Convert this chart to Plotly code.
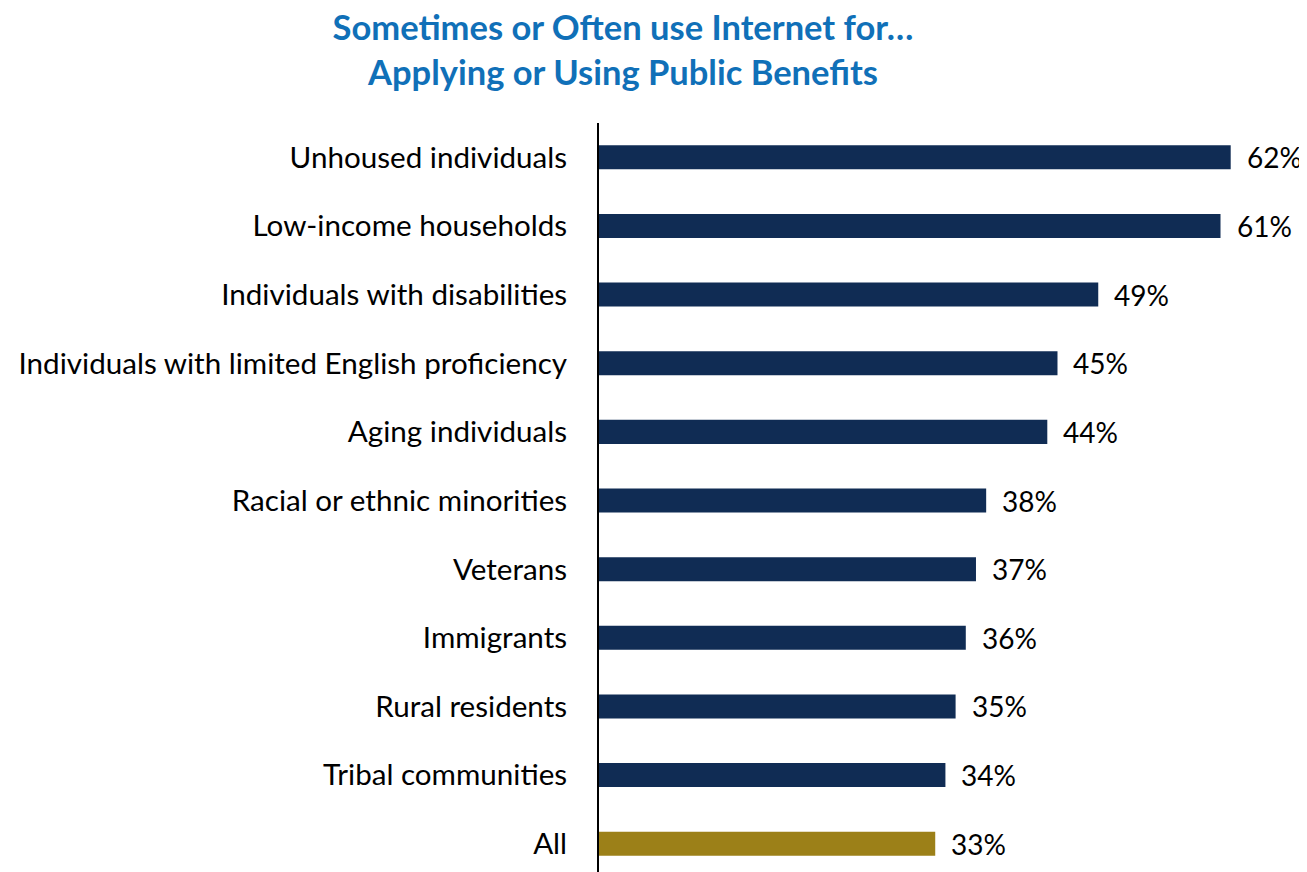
import plotly.graph_objects as go

categories = [
    "Unhoused individuals",
    "Low-income households",
    "Individuals with disabilities",
    "Individuals with limited English proficiency",
    "Aging individuals",
    "Racial or ethnic minorities",
    "Veterans",
    "Immigrants",
    "Rural residents",
    "Tribal communities",
    "All",
]
values = [62, 61, 49, 45, 44, 38, 37, 36, 35, 34, 33]
labels = [f"{v}%" for v in values]

NAVY = "#102C54"
GOLD = "#9C8018"
colors = [GOLD if c == "All" else NAVY for c in categories]

FONT = "Lato"

fig = go.Figure(
    go.Bar(
        x=values,
        y=categories,
        orientation="h",
        marker=dict(color=colors, line=dict(width=0)),
        width=0.35,
        hoverinfo="skip",
    )
)

for c, v, t in zip(categories, values, labels):
    fig.add_annotation(
        x=v, y=c, text=t, showarrow=False, xanchor="left", xshift=14,
        font=dict(family=FONT, size=28, color="#000000"),
    )

fig.update_layout(
    width=1307,
    height=872,
    margin=dict(l=591, r=14, t=115, b=2),
    paper_bgcolor="white",
    plot_bgcolor="white",
    showlegend=False,
    title=dict(
        text="Sometimes or Often use Internet for…<br>Applying or Using Public Benefits",
        x=615 / 1307, xanchor="center", y=1 - 32 / 872, yanchor="middle",
        font=dict(family=FONT, size=34.5, color="#1070B8", weight="bold"),
    ),
    xaxis=dict(range=[0, 68.9], visible=False, fixedrange=True),
    yaxis=dict(
        range=[10.5, -0.5],
        showline=True, linecolor="#000000", linewidth=2,
        showgrid=False, zeroline=False, ticks="",
        ticklabelstandoff=24,
        tickfont=dict(family=FONT, size=29.6, color="#000000"),
    ),
)

fig.write_html("out.html")
